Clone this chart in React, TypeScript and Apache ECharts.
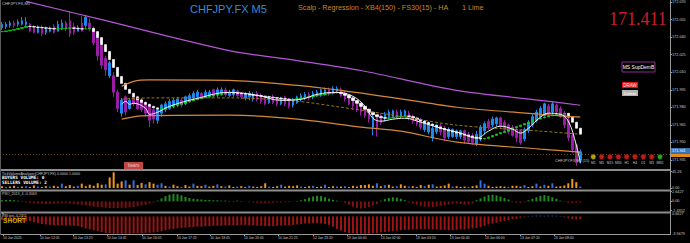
import React, { useEffect, useRef } from "react";
import * as echarts from "echarts";

const SLOT_COUNT = 168;

// Heiken-Ashi candles: [open, close, low, high]
const candles: number[][] = [
  [172.048,172.051,172.046,172.053],[172.049,172.051,172.047,172.053],[172.050,172.052,172.048,172.054],[172.052,172.050,172.048,172.054],
  [172.051,172.053,172.049,172.055],[172.051,172.054,172.050,172.057],[172.051,172.053,172.049,172.057],[172.051,172.045,172.044,172.052],
  [172.048,172.044,172.043,172.050],[172.044,172.048,172.043,172.050],[172.048,172.043,172.041,172.050],[172.044,172.047,172.042,172.049],
  [172.045,172.047,172.044,172.049],[172.049,172.044,172.043,172.051],[172.045,172.051,172.045,172.054],[172.048,172.052,172.046,172.055],
  [172.052,172.047,172.045,172.054],[172.054,172.043,172.040,172.062],[172.049,172.044,172.042,172.052],[172.045,172.048,172.045,172.050],
  [172.052,172.045,172.045,172.058],[172.050,172.057,172.048,172.059],[172.052,172.047,172.045,172.056],[172.047,172.035,172.033,172.049],
  [172.039,172.024,172.020,172.041],[172.033,172.016,172.013,172.035],[172.022,172.012,172.007,172.024],[172.007,172.018,172.005,172.020],
  [172.007,171.993,171.989,172.010],[171.993,171.979,171.976,171.995],[171.975,171.986,171.972,171.988],[171.989,171.976,171.973,171.990],
  [171.979,171.986,171.978,171.988],[171.989,171.983,171.981,171.991],[171.988,171.979,171.978,171.990],[171.986,171.978,171.976,171.988],
  [171.983,171.975,171.972,171.985],[171.981,171.969,171.963,171.983],[171.978,171.970,171.966,171.979],[171.969,171.978,171.966,171.979],
  [171.975,171.982,171.972,171.983],[171.978,171.983,171.976,171.985],[171.979,171.985,171.978,171.987],[171.981,171.986,171.979,171.988],
  [171.982,171.987,171.980,171.989],[171.986,171.982,171.980,171.988],[171.983,171.989,171.982,171.990],[171.986,171.990,171.984,171.992],
  [171.988,171.992,171.986,171.994],[171.989,171.993,171.987,171.995],[171.992,171.989,171.987,171.993],[171.989,171.993,171.988,171.995],
  [171.990,171.993,171.989,171.995],[171.995,171.990,171.989,171.996],[171.991,171.995,171.989,171.997],[171.992,171.995,171.990,171.997],
  [171.995,171.991,171.989,171.997],[171.990,171.993,171.989,171.995],[171.991,171.995,171.989,171.996],[171.994,171.990,171.989,171.995],
  [171.992,171.989,171.987,171.993],[171.988,171.991,171.986,171.993],[171.989,171.992,171.986,171.994],[171.987,171.991,171.985,171.993],
  [171.992,171.987,171.985,171.994],[171.990,171.985,171.983,171.992],[171.989,171.983,171.982,171.990],[171.984,171.989,171.983,171.990],
  [171.989,171.984,171.983,171.991],[171.988,171.983,171.981,171.989],[171.983,171.988,171.982,171.989],[171.989,171.983,171.981,171.990],
  [171.987,171.981,171.979,171.988],[171.982,171.986,171.980,171.988],[171.984,171.989,171.983,171.990],[171.987,171.990,171.985,171.992],
  [171.988,171.991,171.986,171.993],[171.991,171.988,171.986,171.993],[171.989,171.992,171.987,171.994],[171.990,171.993,171.989,171.995],
  [171.991,171.995,171.989,171.996],[171.992,171.995,171.990,171.997],[171.995,171.992,171.990,171.997],[171.993,171.996,171.991,171.998],
  [171.994,171.996,171.992,171.998],[171.995,171.990,171.989,171.997],[171.992,171.987,171.985,171.994],[171.989,171.983,171.982,171.991],
  [171.987,171.981,171.978,171.989],[171.984,171.978,171.976,171.986],[171.983,171.976,171.973,171.984],[171.980,171.973,171.971,171.982],
  [171.978,171.970,171.967,171.979],[171.963,171.972,171.956,171.974],[171.972,171.962,171.955,171.973],[171.973,171.967,171.965,171.975],
  [171.970,171.974,171.968,171.976],[171.972,171.976,171.970,171.978],[171.972,171.977,171.971,171.978],[171.976,171.972,171.971,171.978],
  [171.972,171.976,171.971,171.978],[171.973,171.977,171.972,171.978],[171.975,171.971,171.969,171.977],[171.972,171.968,171.966,171.974],
  [171.971,171.966,171.964,171.972],[171.969,171.963,171.961,171.971],[171.961,171.967,171.959,171.969],[171.959,171.966,171.957,171.968],
  [171.954,171.962,171.951,171.964],[171.959,171.965,171.957,171.966],[171.964,171.959,171.956,171.966],[171.962,171.954,171.951,171.964],
  [171.955,171.961,171.953,171.963],[171.955,171.961,171.954,171.962],[171.955,171.960,171.953,171.961],[171.955,171.960,171.953,171.961],
  [171.960,171.952,171.949,171.961],[171.957,171.951,171.949,171.959],[171.956,171.950,171.948,171.958],[171.949,171.957,171.947,171.960],
  [171.954,171.963,171.951,171.965],[171.960,171.966,171.957,171.968],[171.968,171.963,171.961,171.970],[171.965,171.970,171.963,171.972],
  [171.966,171.971,171.964,171.972],[171.971,171.964,171.962,171.972],[171.967,171.961,171.960,171.969],[171.965,171.959,171.957,171.966],
  [171.963,171.956,171.955,171.965],[171.961,171.954,171.950,171.963],[171.960,171.950,171.948,171.961],[171.953,171.961,171.951,171.963],
  [171.960,171.967,171.958,171.969],[171.965,171.972,171.963,171.974],[171.969,171.976,171.967,171.978],[171.972,171.979,171.970,171.981],
  [171.973,171.983,171.972,171.984],[171.981,171.975,171.973,171.983],[171.976,171.983,171.974,171.985],[171.982,171.976,171.974,171.983],
  [171.979,171.972,171.971,171.981],[171.975,171.965,171.962,171.977],[171.969,171.954,171.951,171.971],[171.956,171.944,171.941,171.958],
  [171.948,171.933,171.930,171.949],[171.935,171.942,171.932,171.944],
];

// Fast trend line (drawn green when rising, white when falling)
const trendLine: number[] = [
  172.0447,172.0453,172.0459,172.0466,172.0474,172.0482,172.0492,
  172.0490,172.0486,172.0483,172.0480,172.0476,172.0473,172.0469,
  172.0471,172.0474,172.0476,172.0479,
  172.0475,172.0472,172.0469,
  172.0472,172.0475,
  172.0447,172.0396,172.0336,172.0277,172.0209,172.0141,172.0064,172.0005,171.9954,171.9920,171.9890,171.9864,171.9843,171.9826,171.9809,171.9796,171.9785,
  171.9790,171.9798,171.9806,171.9816,171.9826,171.9836,171.9846,171.9856,171.9865,171.9874,171.9881,171.9889,171.9896,171.9903,171.9909,171.9915,171.9921,171.9926,
  171.9923,171.9920,171.9916,171.9913,171.9908,171.9904,171.9900,171.9896,171.9891,171.9887,171.9883,171.9879,171.9874,171.9870,171.9865,
  171.9869,171.9874,171.9880,171.9886,171.9891,171.9897,171.9903,171.9909,171.9914,171.9920,171.9924,171.9928,
  171.9918,171.9903,171.9881,171.9858,171.9835,171.9809,171.9784,171.9758,171.9737,171.9721,171.9712,171.9707,
  171.9711,171.9716,171.9720,171.9724,171.9727,
  171.9721,171.9709,171.9696,171.9683,171.9670,171.9658,171.9645,171.9632,171.9620,171.9609,171.9599,171.9590,171.9580,171.9571,171.9563,171.9554,171.9546,171.9537,171.9529,
  171.9535,171.9547,171.9560,171.9573,171.9585,171.9598,171.9611,171.9624,171.9636,171.9649,171.9662,171.9675,171.9687,171.9699,171.9709,171.9718,171.9727,171.9733,171.9739,171.9744,171.9749,
  171.9716,171.9673,171.9622,171.9571,
];

// [bar index, price]
const slowMaPts: number[][] = [[6,172.0706],[25,172.0549],[57,172.0285],[74,172.02],[90,172.0115],[114,171.9945],[135,171.986],[145,171.9818]];
const channelUpperPts: number[][] = [[30,171.9979],[33,172.0022],[37,172.0034],[57,172.003],[74,171.9988],[85,171.9945],[100,171.9873],[114,171.9801],[135,171.9741],[145,171.9716]];
const channelMidPts: number[][] = [[30,171.9869],[37,171.9881],[57,171.9881],[74,171.9852],[85,171.9801],[100,171.9724],[114,171.9648],[135,171.9597],[145,171.9571]];
const channelLowerPts: number[][] = [[30,171.9699],[35,171.9728],[57,171.9733],[74,171.9699],[90,171.9631],[100,171.9597],[114,171.9503],[135,171.9444],[145,171.9418]];
const regressionPts: number[][] = [
  [30,171.9826],[31,171.9852],[32,171.9826],[33,171.9835],[36,171.9792],[37,171.9741],[39,171.9758],[42,171.9809],[49,171.9877],
  [57,171.9928],[64,171.9903],[70,171.986],[75,171.9869],[79,171.9911],[84,171.9928],[88,171.9894],[91,171.9809],[93,171.9707],
  [95,171.9682],[98,171.9699],[101,171.9707],[105,171.9673],[110,171.9622],[115,171.958],[119,171.9537],[122,171.9597],[125,171.9639],
  [128,171.9614],[130,171.958],[132,171.9622],[135,171.9716],[137,171.975],[140,171.9741],[142,171.9682],[144,171.9478],[145,171.9325],
];

const volumes: number[] = [
  5,3,4,6,3,4,5,3,7,4,3,5,4,6,4,12,5,8,4,6,12,5,9,
  6,13,9,10,29,43,12,18,21,9,21,8,14,10,16,12,9,
  13,6,4,9,5,3,8,4,12,6,5,9,4,6,10,5,4,7,
  3,4,5,3,6,4,3,5,13,4,3,5,9,4,6,5,7,4,3,5,6,3,4,9,3,5,4,
  4,5,3,6,4,8,8,10,6,13,5,8,9,4,5,10,6,4,5,3,8,5,9,10,4,5,7,12,4,5,
  3,4,3,5,7,21,12,6,3,4,5,4,3,6,6,4,8,3,5,12,4,9,6,13,4,5,7,13,25,16,4,
];
const volumeSides: string[] = (
  "OBOOBOBOOBOOBOOBOOOBOOO" + "OOOBOOOOBOBOOBOOB" + "BOBOOBOOBOOBOOBOBO" +
  "OBOOBOOOOBOOBOOOOBOOBOOBOOB" + "OBOOOOOOOBOBOOBOOBOOOBOBOOOOBO" + "OOBOOBBOOOOOBOOOBOOBOBOBOOOOOOB"
).split("");

const psoValues: number[] = [
  0.3,0.4,0.4,0.3,0.2,
  -0.2,-0.3,-0.4,-0.5,-0.6,-0.6,-0.7,-0.7,-0.6,
  -0.6,-0.5,-0.5,-0.6,-0.7,-0.8,-0.9,
  -1.0,-1.2,-1.4,-1.5,-1.6,-1.7,-1.8,-1.8,-1.8,-1.7,-1.7,-1.6,-1.5,-1.3,-1.1,-0.9,-0.6,
  -0.3,0.2,
  0.8,1.4,1.8,2.0,1.9,1.6,1.2,
  0.9,0.7,0.6,0.5,0.4,0.4,0.3,0.3,0.2,0.2,0.1,
  0.1,0.2,0.1,-0.1,-0.2,-0.3,-0.4,-0.5,-0.5,-0.4,-0.4,-0.3,-0.3,-0.2,-0.2,-0.1,0.1,
  0.3,0.6,1.0,1.3,1.5,1.4,1.1,0.7,0.4,
  0.2,-0.1,
  -0.4,-0.9,-1.4,-1.8,-1.9,-1.8,-1.5,-1.1,-0.7,
  0.2,0.6,0.9,1.1,1.0,0.7,0.3,
  -0.3,-0.6,-0.9,-1.2,-1.4,-1.5,-1.5,-1.4,-1.2,-1.0,-0.8,-0.6,-0.5,
  -0.7,-0.9,-0.8,-0.5,
  0.3,0.8,1.3,1.7,1.8,1.6,1.3,0.9,0.5,
  -0.2,-0.4,-0.4,-0.2,
  0.3,0.7,1.1,1.5,1.7,1.5,1.1,0.7,
  0.2,-0.2,-0.4,-0.5,-0.4,-0.3,
];

const rsiValues: number[] = [
  -0.8,-0.9,-0.9,-1.0,-1.0,-1.0,-1.1,-1.1,
  -1.3,-1.5,-1.7,-1.8,-1.9,-2.0,-2.0,-2.0,-2.1,-2.0,-2.1,-2.2,
  -2.4,-2.7,-2.9,-3.1,-3.3,
  -3.5,-3.7,-3.8,-3.9,-3.9,-3.9,-3.9,-3.9,-3.8,-3.8,-3.8,-3.7,-3.7,-3.6,-3.5,
  -3.3,-3.1,-2.9,-2.8,-2.7,-2.6,-2.5,-2.4,-2.4,-2.3,-2.3,-2.2,-2.2,-2.1,-2.1,-2.1,-2.0,-2.0,
  -2.0,-2.0,-1.9,-1.9,-2.0,-2.0,-2.1,-2.1,-2.2,-2.2,-2.2,-2.1,-2.1,-2.0,-2.0,-1.9,-1.8,-1.7,-1.6,-1.6,-1.5,-1.5,-1.6,-1.7,-1.9,
  -2.3,-2.8,-3.2,-3.5,-3.7,-3.8,-3.9,-3.9,-3.9,-3.9,-3.8,-3.7,-3.6,-3.5,-3.4,-3.3,-3.2,
  -3.1,-3.0,-3.0,-2.9,-2.9,-2.8,-2.8,-2.8,-2.9,-2.9,-3.0,-3.0,-3.1,-3.1,-3.0,
  -2.9,-2.9,-2.8,-2.7,-2.6,
  -2.4,-2.1,-1.8,-1.6,-1.4,-1.2,-1.0,-0.8,-0.6,-0.5,
  -0.3,-0.2,0.1,0.15,0.2,0.2,0.15,0.2,0.2,0.15,0.1,
  -0.2,-0.4,-0.6,-0.7,-0.6,
];

const priceTicks: number[] = [172.07, 172.055, 172.04, 172.025, 172.01, 171.995, 171.98, 171.965, 171.95, 171.935];
const volumeTicks: number[] = [45.26, 0];
const psoTicks: number[] = [2.6427, 0, -2.4352];
const rsiTicks: number[] = [0.6627, -3.9479];
const timeTickSlots: number[] = [0.25, 9.5, 17.8, 26.3, 35.1, 43.9, 52.2, 60.7, 69.2, 78.0, 86.5, 95.0, 103.8, 112.3, 121.1, 129.9, 138.4];
const timeLabels: string[] = [
  "10 Jan 2025","10 Jan 12:05","10 Jan 13:25","10 Jan 14:45","10 Jan 16:05","10 Jan 17:25","10 Jan 18:45",
  "10 Jan 20:05","10 Jan 21:25","12 Jan 23:20","13 Jan 00:40","13 Jan 02:00","13 Jan 03:20","13 Jan 04:40",
  "13 Jan 06:00","13 Jan 07:20","13 Jan 08:40",
];
const timeframes: string[] = ["M1","M5","M15","M30","H1","H4","D1","W1","MN1"];
const timeframeStates: string[] = ["flat","down","down","down","down","down","down","down","up"];
const bidPrice = 171.941;
const askPrice = 171.943;
const headlinePrice = "171.411";

const FONT = '"Liberation Sans", Arial, sans-serif';
const AXIS_TXT = "#c8c8c8";
const AXIS_LINE = "#9a9a9a";

function sparse(points: number[][]): (number | null)[] {
  const arr: (number | null)[] = new Array(candles.length).fill(null);
  points.forEach(([i, v]) => { arr[i] = v; });
  return arr;
}

function txt(text: string, x: number, y: number, font: string, fill: string, align = "left") {
  return {
    type: "text", x, y, z: 100,
    style: { text, font, fill, align, verticalAlign: "middle", textAlign: align, textVerticalAlign: "middle" },
  };
}

function buildOption(): any {
  const slots = Array.from({ length: SLOT_COUNT }, (_, i) => String(i));
  const trendCandles = trendLine.map((v, i) => {
    const o = i ? trendLine[i - 1] : v;
    return [o, v, Math.min(o, v), Math.max(o, v)];
  });
  const tfColors: Record<string, string> = { flat: "#a8a800", down: "#c01a1a", up: "#18a818" };

  const graphic: any[] = [];
  [169, 189.5, 211.5].forEach((y) =>
    graphic.push({ type: "rect", z: 90, shape: { x: 0, y, width: 670, height: 2 }, style: { fill: "#8c8c8c" } })
  );
  graphic.push({ type: "line", z: 90, shape: { x1: 670.5, y1: 0, x2: 670.5, y2: 235 }, style: { stroke: AXIS_LINE, lineWidth: 1 } });
  graphic.push({ type: "line", z: 90, shape: { x1: 0.5, y1: 0, x2: 0.5, y2: 235 }, style: { stroke: "#5a5a5a", lineWidth: 1 } });

  graphic.push(txt("CHFJPY.FX,M5", 2, 3.5, `4px ${FONT}`, AXIS_TXT));
  graphic.push(txt("CHFJPY.FX M5", 190, 9, `11px ${FONT}`, "#3a8ad2"));
  graphic.push(txt("Scalp - Regression - XB4(150) - FS30(15) - HA", 298, 7.5, `7.2px ${FONT}`, "#d0841c"));
  graphic.push(txt("1 Lime", 462, 7.5, `7.2px ${FONT}`, "#d0841c"));
  graphic.push(txt(headlinePrice, 609, 19, `18px "Liberation Serif", "DejaVu Serif", serif`, "#c81e28"));

  graphic.push({ type: "rect", z: 100, shape: { x: 622, y: 62, width: 33, height: 10 }, style: { fill: "#000", stroke: "#8a2a8a", lineWidth: 1 } });
  graphic.push(txt("MS SupDemB", 638.5, 67, `5px ${FONT}`, "#ffffff", "center"));
  graphic.push({ type: "rect", z: 100, shape: { x: 622, y: 82, width: 16, height: 6 }, style: { fill: "#e01010" } });
  graphic.push(txt("DRAW", 630, 85, `4.5px ${FONT}`, "#ffffff", "center"));
  graphic.push({ type: "rect", z: 100, shape: { x: 622, y: 90, width: 16, height: 6 }, style: { fill: "#b4b4b4" } });
  graphic.push(txt("Delete", 630, 93, `4.3px ${FONT}`, "#ffffff", "center"));

  graphic.push({ type: "rect", z: 100, shape: { x: 671, y: 148, width: 19, height: 5.5 }, style: { fill: "#3f74b4" } });
  graphic.push(txt(bidPrice.toFixed(3), 672, 150.8, `3.8px ${FONT}`, "#ffffff"));
  graphic.push({ type: "rect", z: 100, shape: { x: 671, y: 153.5, width: 19, height: 3.5 }, style: { fill: "#e08a20" } });

  graphic.push({ type: "rect", z: 100, shape: { x: 124, y: 162, width: 19, height: 7 }, style: { fill: "#c04545" } });
  graphic.push(txt("bears", 133.5, 165.5, `4.5px ${FONT}`, "#f0c8c8", "center"));

  graphic.push(txt("CHFJPY.FX M5 (15)", 555, 161, `3.8px ${FONT}`, AXIS_TXT));
  timeframes.forEach((tf, k) => {
    const cx = 593.3 + k * 8.34;
    graphic.push({ type: "circle", z: 100, shape: { cx, cy: 156.8, r: 2.7 }, style: { fill: tfColors[timeframeStates[k]], stroke: "#3a0a0a", lineWidth: 0.6 } });
    graphic.push(txt(tf, cx, 162.6, `3.4px ${FONT}`, AXIS_TXT, "center"));
  });

  graphic.push(txt("TickVolumeAnalyzer(CHFJPY.FX) 0.0000 1.0000", 2, 173.6, `3.6px ${FONT}`, AXIS_TXT));
  graphic.push(txt("BUYERS VOLUME: 0", 2, 177.4, `bold 4.4px "DejaVu Sans Mono", monospace`, "#ffffff"));
  graphic.push(txt("SELLERS VOLUME: 2", 2, 182.0, `bold 4.4px "DejaVu Sans Mono", monospace`, "#ffffff"));
  graphic.push(txt("PSO_2013_4 -0.3063", 2, 194, `3.6px ${FONT}`, AXIS_TXT));
  graphic.push(txt("RSI ext -0.2311", 2, 215.5, `3.6px ${FONT}`, AXIS_TXT));
  graphic.push(txt("SHORT", 3, 220.8, `bold 6.6px ${FONT}`, "#c8a800"));

  const hiddenX = (gridIndex: number) => ({ type: "category", gridIndex, data: slots, show: false, boundaryGap: true });
  const rightY = (gridIndex: number, min: number, max: number, ticks: number[], fmt: (v: number) => string) => ({
    type: "value", gridIndex, position: "right", min, max,
    axisLine: { show: false },
    axisTick: { show: true, length: 2, customValues: ticks, lineStyle: { color: AXIS_LINE } },
    axisLabel: { customValues: ticks, formatter: fmt, fontSize: 3.8, color: AXIS_TXT, fontFamily: FONT, margin: 2 },
    splitLine: { show: false },
  });

  return {
    animation: false,
    backgroundColor: "#000000",
    grid: [
      { left: 0, top: 0, width: 670, height: 168 },
      { left: 0, top: 171.5, width: 670, height: 16.5 },
      { left: 0, top: 191.5, width: 670, height: 19 },
      { left: 0, top: 213.5, width: 670, height: 20.5 },
    ],
    xAxis: [
      hiddenX(0), hiddenX(1), hiddenX(2), hiddenX(3),
      {
        type: "value", gridIndex: 3, position: "bottom", min: -0.5, max: SLOT_COUNT - 0.5,
        axisLine: { show: true, lineStyle: { color: AXIS_LINE } },
        axisTick: { show: true, length: 2, customValues: timeTickSlots, lineStyle: { color: AXIS_LINE } },
        axisLabel: {
          customValues: timeTickSlots,
          formatter: (v: number) => {
            let best = 0;
            timeTickSlots.forEach((t, k) => { if (Math.abs(t - v) < Math.abs(timeTickSlots[best] - v)) best = k; });
            return timeLabels[best];
          },
          align: "left", margin: 2, fontSize: 3.4, color: AXIS_TXT, fontFamily: FONT,
        },
        splitLine: { show: false },
      },
    ],
    yAxis: [
      rightY(0, 171.9282, 172.071, priceTicks, (v) => v.toFixed(3)),
      rightY(1, 0, 45.26, volumeTicks, (v) => v.toFixed(2)),
      rightY(2, -2.4352, 2.6427, psoTicks, (v) => (v === 0 ? "0.00" : v.toFixed(4))),
      rightY(3, -3.9479, 0.6627, rsiTicks, (v) => v.toFixed(4)),
    ],
    graphic: { elements: graphic },
    series: [
      {
        type: "candlestick", name: "HA", xAxisIndex: 0, yAxisIndex: 0, data: candles, barWidth: 2,
        itemStyle: { color: "#1e88f0", color0: "#9a1ea4", borderColor: "#1e88f0", borderColor0: "#9a1ea4", borderWidth: 1 },
        markLine: {
          silent: true, symbol: ["none", "none"], label: { show: false },
          data: [
            { yAxis: askPrice, lineStyle: { color: "#4a4a5a", type: [1, 2], width: 1 } },
            { yAxis: bidPrice, lineStyle: { color: "#6a4a20", type: [1, 2], width: 1 } },
          ],
        },
      },
      { type: "line", xAxisIndex: 0, yAxisIndex: 0, data: sparse(channelUpperPts), connectNulls: true, smooth: 0.3, symbol: "none", lineStyle: { color: "#d4883a", width: 1.2 } },
      { type: "line", xAxisIndex: 0, yAxisIndex: 0, data: sparse(channelLowerPts), connectNulls: true, smooth: 0.3, symbol: "none", lineStyle: { color: "#d4883a", width: 1.2 } },
      { type: "line", xAxisIndex: 0, yAxisIndex: 0, data: sparse(channelMidPts), connectNulls: true, smooth: 0.3, symbol: "none", lineStyle: { color: "#9a7a10", width: 1, type: [3, 2] } },
      { type: "line", xAxisIndex: 0, yAxisIndex: 0, data: sparse(slowMaPts), connectNulls: true, smooth: 0.3, symbol: "none", lineStyle: { color: "#b355d6", width: 1.2 } },
      {
        type: "candlestick", name: "trend", xAxisIndex: 0, yAxisIndex: 0, data: trendCandles, barWidth: 3,
        itemStyle: { color: "#10d010", color0: "#ffffff", borderColor: "#10d010", borderColor0: "#ffffff", borderWidth: 0.7 },
      },
      { type: "line", xAxisIndex: 0, yAxisIndex: 0, data: sparse(regressionPts), connectNulls: true, smooth: 0.4, symbol: "none", lineStyle: { color: "#f4f4f4", width: 1 } },
      {
        type: "bar", xAxisIndex: 1, yAxisIndex: 1, barWidth: 2,
        data: volumes.map((v, i) => ({ value: v, itemStyle: { color: volumeSides[i] === "B" ? "#326ee6" : "#f0961e" } })),
      },
      {
        type: "bar", xAxisIndex: 2, yAxisIndex: 2, barWidth: 2,
        data: psoValues.map((v) => ({ value: v, itemStyle: { color: v >= 0 ? "#1f8a1f" : "#7a1010" } })),
      },
      {
        type: "bar", xAxisIndex: 3, yAxisIndex: 3, barWidth: 2,
        data: rsiValues.map((v) => ({ value: v, itemStyle: { color: v >= 0 ? "#2a3f9a" : "#9c1414" } })),
      },
    ],
  };
}

export default function App() {
  const ref = useRef<HTMLDivElement>(null);
  useEffect(() => {
    if (!ref.current) return;
    const chart = echarts.init(ref.current, undefined, { renderer: "svg" });
    chart.setOption(buildOption());
    return () => chart.dispose();
  }, []);
  return (
    <div
      ref={ref}
      style={{ position: "fixed", left: 0, top: 0, width: 690, height: 243, background: "#000" }}
    />
  );
}
